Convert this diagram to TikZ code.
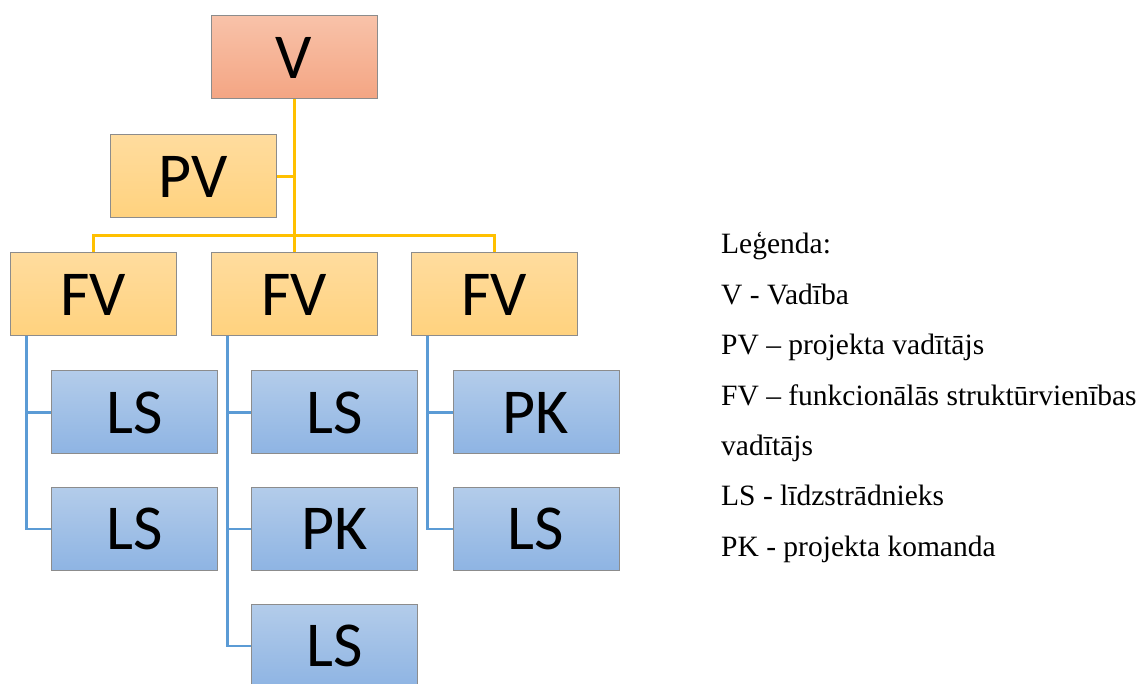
\documentclass[tikz,border=0pt]{standalone}
\usepackage{fontspec}
\setmainfont{Liberation Serif}
\newfontfamily\boxfont{Carlito}
\definecolor{vtop}{HTML}{F8C2A9}
\definecolor{vbot}{HTML}{F4A583}
\definecolor{ytop}{HTML}{FFDC9E}
\definecolor{ybot}{HTML}{FFD27E}
\definecolor{btop}{HTML}{B3CCEA}
\definecolor{bbot}{HTML}{8EB4E3}
\definecolor{yline}{HTML}{FFC000}
\definecolor{bline}{HTML}{5B9BD5}
\definecolor{boxedge}{HTML}{8C8C8C}
\begin{document}
\begin{tikzpicture}[x=1pt,y=-1pt,
  orgbox/.style={draw=boxedge,line width=1pt,minimum width=166pt,minimum height=83pt,inner sep=0pt,
    font=\boxfont\fontsize{64}{70}\selectfont,text=black},
  vbox/.style={orgbox,top color=vtop,bottom color=vbot},
  ybox/.style={orgbox,top color=ytop,bottom color=ybot},
  bbox/.style={orgbox,top color=btop,bottom color=bbot},
  yconn/.style={draw=yline,line width=3pt},
  bconn/.style={draw=bline,line width=2.5pt},
  legend/.style={anchor=base west,inner sep=0pt,font=\fontsize{29.5}{35}\selectfont}]
\useasboundingbox (0,0) rectangle (1136,684);
\coordinate (bus) at (294,236);
\node[vbox] (V) at (294,57.5) {V};
\node[ybox] (PV) at (193.5,176.5) {PV};
\node[ybox] (FV1) at (93,294.5) {FV};
\node[ybox] (FV2) at (294,294.5) {FV};
\node[ybox] (FV3) at (494,294.5) {FV};
\node[bbox] (LS1a) at (134.5,412.5) {LS};
\node[bbox] (LS1b) at (134.5,529) {LS};
\node[bbox] (LS2a) at (334.5,412.5) {LS};
\node[bbox] (PK2b) at (334.5,529) {PK};
\node[bbox] (LS2c) at (334.5,646) {LS};
\node[bbox] (PK3a) at (536,412.5) {PK};
\node[bbox] (LS3b) at (536,529) {LS};
\path[yconn] (V.south) -- (FV2.north);
\path[yconn] (PV.east) -- (PV.east -| V.south);
\path[yconn] (FV1.north) |- (bus) -| (FV3.north);
\path[bconn] ([xshift=17pt]FV1.south west) |- (LS1a.west);
\path[bconn] ([xshift=17pt]FV1.south west) |- (LS1b.west);
\path[bconn] ([xshift=17pt]FV2.south west) |- (LS2a.west);
\path[bconn] ([xshift=17pt]FV2.south west) |- (PK2b.west);
\path[bconn] ([xshift=17pt]FV2.south west) |- (LS2c.west);
\path[bconn] ([xshift=17pt]FV3.south west) |- (PK3a.west);
\path[bconn] ([xshift=17pt]FV3.south west) |- (LS3b.west);
% legend
\node[legend] (l0) at (721,254) {Leģenda:};
\node[legend] (l1) at (721,305) {V - Vadība};
\node[legend] (l2) at (721,355) {PV – projekta vadītājs};
\node[legend] (l3) at (721,406) {FV – funkcionālās struktūrvienības};
\node[legend] (l4) at (721,456) {vadītājs};
\node[legend] (l5) at (721,506) {LS - līdzstrādnieks};
\node[legend] (l6) at (721,557) {PK - projekta komanda};
\end{tikzpicture}
\end{document}
